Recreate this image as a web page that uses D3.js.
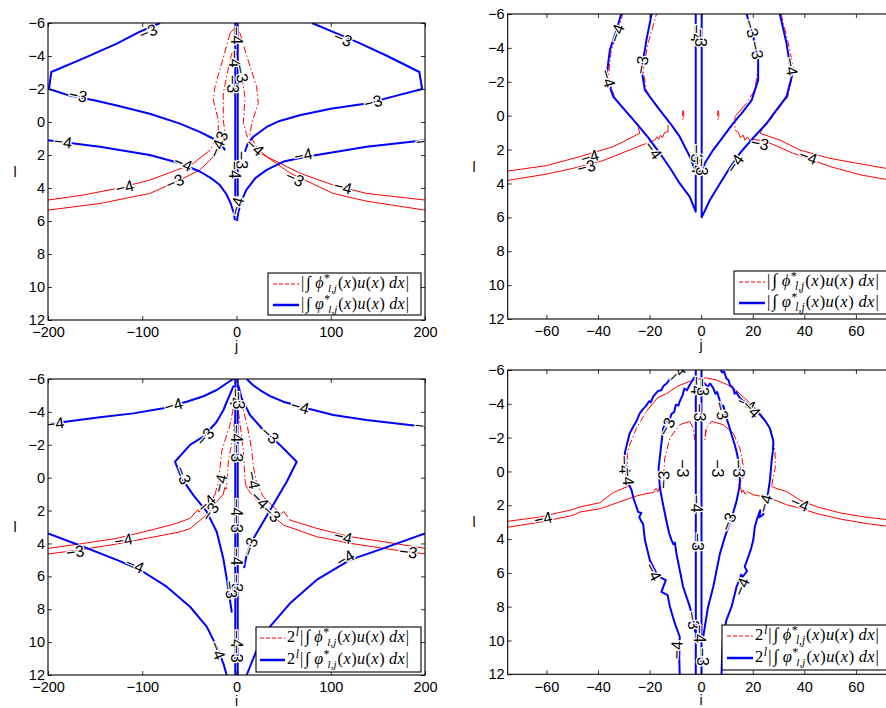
<!DOCTYPE html>
<html><head><meta charset="utf-8">
<script src="https://cdn.jsdelivr.net/npm/d3@7"></script>
<style>body{margin:0;background:#fff}</style>
</head><body>
<svg id="c" width="886" height="708" xmlns="http://www.w3.org/2000/svg"></svg>
<script>
// ---------- tick values ----------
const yTicks = [-6,-4,-2,0,2,4,6,8,10,12];
const xTicksWide = [-200,-100,0,100,200];
const xTicksNarrow = [-60,-40,-20,0,20,40,60];

// ---------- top-left panel: contour lines [j, l] ----------
const tlBlue = [
  [[-81,-6],[-103,-5.46],[-127,-4.75],[-163,-3.84],[-196.5,-3.03],[-199,-2.0],[-177,-1.6],[-150,-1.3],[-127,-1.0],[-92,-0.5],[-60,0.1],[-39,0.6],[-25,1.0],[-17,1.3],[-12,1.7]],
  [[80,-6],[105,-5.4],[130,-4.8],[160,-4.0],[194,-3.03],[197,-2.0],[170,-1.6],[138,-1.12],[100,-0.8],[67,-0.41],[45,-0.05],[32,0.3],[23,0.68],[17.7,0.9],[12,1.3],[9,1.8]],
  [[-200,1.1],[-145,1.5],[-92,2.0],[-60,2.5],[-39,3.0],[-27,3.4],[-18,3.8],[-11,4.35],[-6,4.95],[-3,5.5],[-1.6,5.95]],
  [[200,1.1],[138,1.5],[74,2.1],[50,2.4],[32,2.9],[20,3.4],[10.6,4.1],[5,4.8],[1.8,5.5],[0.5,6.0]],
  [[-1.3,-6],[-1.3,4.5]],
  [[1.3,-6],[1.3,4.5]]
];
const tlRed = [
  [[-2,-5.7],[-6.9,-5.37],[-14,-3.9],[-22.8,-2.14],[-24.6,-1.33],[-19.3,-0.12],[-19.3,0.79],[-28,1.7],[-45.8,2.5],[-63.7,2.92],[-92,3.52],[-127,4.03],[-163,4.43],[-200,4.73]],
  [[-1,-4.3],[-5.1,-4.16],[-10,-2.9],[-14,-1.74],[-14,-0.12],[-12.2,0.69],[-21,1.9],[-38.7,2.9],[-63.7,3.62],[-92,4.33],[-145,4.94],[-200,5.34]],
  [[-2,-5.7],[3.7,-5.37],[12,-3.8],[21.4,-2.14],[23.1,-1.13],[16.1,0.08],[14.3,0.79],[24.9,1.9],[46.2,2.5],[67,3.1],[103,3.83],[138,4.33],[200,4.73]],
  [[-1,-4.3],[1.9,-3.76],[6,-2.6],[9,-1.53],[7.2,0.08],[12.5,1.09],[32,2.1],[56.8,3.1],[102.7,4.33],[138,4.8],[200,5.34]]
];
const tlLabels = [
  [-93.8,-5.46,-3],[113,-5.05,-3],[-168,-1.62,-3],[145,-1.22,-3],[-184,1.2,-4],[200,1.15,-4],
  [-56.6,2.51,-4],[70.8,2.0,-4],[-118.6,3.93,-4],[-65.5,3.62,-3],[62,3.42,-3],[113,3.93,-4],
  [-17.7,1.1,-3],[-21,1.6,-4],[19.5,1.5,-4],[5.3,2.3,-3],[0,-5.25,-4],[-1.8,-3.84,-4],
  [5.3,-2.93,-3],[-3.5,-2.3,-3],[-1.8,2.9,-4],[0,5.1,-4]
];

// ---------- top-right panel ----------
const trBlue = [
  [[-31,-6],[-32.8,-5.06],[-35.4,-3.87],[-36.7,-2.3],[-34.1,-1.12],[-30,-0.4],[-25.1,0.45],[-20.5,1.3],[-16,2.22],[-12,3.1],[-8.3,4.0],[-4.4,4.79],[-2.1,5.67],[-2.1,-6]],
  [[30.5,-6],[33.1,-4.27],[35.1,-2.3],[33.1,-1.12],[29,-0.3],[25.4,0.45],[20,1.35],[15,2.22],[11,3.1],[7.3,4.0],[3.4,4.98],[0.2,6.0],[0.2,-6]],
  [[-19.2,-6],[-21.2,-4.47],[-23.1,-2.7],[-21.8,-1.5],[-16,-0.33],[-12,0.45],[-8.3,1.24],[-4.4,2.42],[-2.4,3.2]],
  [[17.6,-6],[20.2,-4.66],[22.1,-3.28],[22.1,-2.1],[19.6,-0.92],[16,-0.2],[12.4,0.45],[8.5,1.25],[4.65,2.03],[1.4,2.81],[0.5,3.5]]
];
const trRed = [
  [[-75,3.27],[-60,2.95],[-47.1,2.42],[-34.1,1.83],[-23.8,1.04],[-24.7,0.5],[-29.3,-0.3],[-33.6,-1.1],[-36,-2.3],[-34.8,-3.9],[-32.2,-5.0],[-30.4,-6]],
  [[-75,3.82],[-60,3.45],[-49.7,3.11],[-38,2.65],[-21.2,1.63],[-18,1.45],[-17.2,1.25],[-16.5,1.4],[-15.8,1.15],[-15,1.3],[-14.2,1.0],[-12.8,0.95],[-12.8,0.26],[-17.3,-0.53],[-21.2,-1.51],[-22.5,-2.69],[-20.6,-4.27],[-17.3,-6]],
  [[31,-6],[33.8,-4.3],[35.9,-2.69],[33.6,-1.12],[26,0.4],[24.1,0.65],[22.8,1.04],[30.5,1.44],[38.3,2.03],[49.9,2.52],[62,2.85],[75,3.2]],
  [[22.3,-3.0],[20.8,-1.51],[17.6,-0.73],[13.1,0.06],[13.1,0.85],[14.5,1.0],[15.2,1.3],[16.3,1.15],[17,1.45],[18,1.25],[19,1.5],[20.5,1.4],[25.4,1.54],[35.7,2.22],[49.9,3.0],[62,3.5],[75,3.85]],
  [[-7,-0.3],[-6.7,0],[-7,0.25],[-7.3,0],[-7,-0.3]],
  [[6.6,-0.3],[6.9,0],[6.6,0.25],[6.3,0],[6.6,-0.3]]
];
const trLabels = [
  [-32.8,-4.86,-4],[-36.1,-2.2,-4],[-23.1,-2.99,-3],[-1.8,-4.86,-4],[-0.2,-4.6,-3],[19.5,-5.15,-3],
  [21.5,-3.87,-3],[35,-2.9,-4],[-18.6,2.03,-4],[-43.2,2.42,-4],[-44.5,3.01,-3],[22.8,1.63,-3],
  [13.1,2.82,-4],[41.5,2.42,-4],[-1.8,2.23,-3],[-1.2,2.9,-4],[0.3,3.0,-3]
];

// ---------- bottom-left panel ----------
const blBlue = [
  [[-3.4,-6],[-10.4,-5.74],[-21,-5.33],[-35,-4.95],[-52.9,-4.62],[-77.6,-4.22],[-109.5,-3.91],[-144.9,-3.67],[-200,-3.26]],
  [[10.8,-6],[17,-5.65],[24.9,-5.33],[36,-4.95],[49.7,-4.62],[74.5,-4.22],[102.7,-3.81],[138,-3.51],[170,-3.3],[200,-3.1]],
  [[-3,-5.6],[-8.7,-4.83],[-14,-4.1],[-21,-3.4],[-35.2,-2.49],[-49.3,-1.99],[-65.3,-0.97],[-58.1,0.04],[-45.8,1.06],[-31.6,2.07],[-21,3.29],[-14,4.91],[-8.7,6.73],[-5,8.2]],
  [[2,-5.6],[5.5,-4.83],[14.3,-3.81],[28.4,-2.9],[46.2,-1.99],[63.9,-0.97],[53.3,0.25],[40.8,1.46],[28.4,2.68],[20,3.5],[14.3,4.1],[10.8,4.7],[8,5.5]],
  [[-200,3.39],[-162.5,4.2],[-127.1,5.0],[-102.4,5.6],[-74.1,6.63],[-49.3,7.85],[-31.6,9.06],[-21,10.28],[-14,11.29],[-10.4,12]],
  [[200,3.39],[155.8,4.3],[120.4,5.0],[85,6.22],[56.8,7.64],[35.5,9.06],[21.4,10.48],[10.8,12]],
  [[-1.3,-6],[-1.3,12]],
  [[1.3,-6],[1.3,12]]
];
const blRed = [
  [[-2,-5.0],[-3.4,-4.22],[-6.9,-3.2],[-12,-2.3],[-15.7,-1.58],[-17.5,-0.57],[-19.3,0.25],[-22.8,1.06],[-24,1.1],[-25,1.35],[-28,1.5],[-35.2,1.86],[-40,2.1],[-41,1.95],[-49.3,2.47],[-63.5,2.78],[-91.8,3.2],[-127.1,3.69],[-162.5,4.0],[-200,4.3]],
  [[-2,-3.5],[-3.4,-2.59],[-6,-1.8],[-8.7,-0.97],[-10.4,0.45],[-11,0.7],[-12.5,0.6],[-14,1.0],[-21,1.46],[-28.1,2.07],[-38.7,2.6],[-49.3,3.1],[-60,3.3],[-91.8,3.65],[-127.1,4.03],[-162.5,4.36],[-200,4.64]],
  [[2,-5.5],[3.7,-4.93],[10.8,-3.3],[14,-2.4],[16.1,-1.68],[17.9,-0.67],[21.4,0.35],[28.5,1.16],[42.7,1.97],[48,2.2],[50,2.05],[56.8,2.58],[85,3.08],[120.4,3.59],[155.8,3.89],[200,4.3]],
  [[2,-4.0],[3.7,-3.3],[7.2,-1.68],[9,0.14],[10.5,0.6],[11.5,0.5],[12,0.7],[17.9,1.16],[32,1.96],[49.7,2.88],[85,3.59],[120.4,3.99],[155.8,4.3],[200,4.64]]
];
const blLabels = [
  [-67,-4.42,-4],[-192.6,-3.3,-4],[67.4,-4.32,-4],[199,-3.15,-4],[-33.4,-2.49,-3],[35.5,-2.6,-3],
  [-56.4,-0.16,-3],[-17.5,0.35,-4],[17.9,0.14,-4],[-31.7,1.56,-4],[24.9,1.36,-4],[-28.1,2.07,-3],
  [37.3,2.17,-3],[-120,3.79,-4],[113.3,3.59,-4],[-171.3,4.5,-3],[182.3,4.5,-3],[-107.7,5.31,-4],
  [115.1,4.91,-4],[14.3,4.2,-3],[-1,-4.9,-4],[2,-4.7,-3],[0,-2.7,-4],[0,-1.5,-3],[0,1.8,-4],
  [0,2.8,-3],[0,4.8,-4],[0,6.4,-3],[-6,6.8,-3],[0,9.8,-4],[0,10.7,-3],[-20,10.5,-4]
];

// ---------- bottom-right panel ----------
const brBlue = [
  [[-8,-6],[-9.6,-5.75],[-11,-5.5],[-12.2,-5.45],[-13.4,-5.2],[-14.6,-5.05],[-15.5,-4.8],[-16.8,-4.75],[-18.6,-4.42],[-19.5,-4.1],[-20.2,-4.15],[-21.5,-3.85],[-22.5,-3.7],[-23.8,-3.44],[-25,-3.0],[-26.5,-2.6],[-27.7,-2.25],[-28.8,-1.6],[-29.6,-1.07],[-29.4,-0.4],[-29,0.11],[-28.5,0.6],[-27,1.1],[-26.2,1.6],[-25.1,2.09],[-24.4,2.4],[-23.2,2.45],[-24,2.7],[-23.2,2.95],[-22.5,3.1],[-21.8,4.06],[-19.9,5.25],[-17.3,6.03],[-16,6.25],[-13.7,6.43],[-15.4,7.12],[-13,7.32],[-12.1,8.0],[-10.2,8.99],[-8.3,9.78],[-8.5,11],[-8.3,12]],
  [[7.3,-6.05],[8.2,-5.85],[8.9,-5.9],[9.8,-5.5],[10.6,-5.4],[11.2,-5.1],[12.4,-4.93],[13,-4.6],[13.6,-4.7],[15,-4.34],[16,-4.2],[17,-4.1],[18.9,-3.95],[20.5,-3.7],[22.8,-3.36],[24.8,-3.0],[26.6,-2.57],[28,-1.78],[27.8,-1.2],[27.3,-0.6],[27,0.0],[26.6,0.59],[26,1.2],[25.4,1.77],[24,2.56],[22.6,2.7],[22.9,2.3],[21.5,2.9],[20.8,3.3],[20.2,4.06],[19.3,4.6],[18.3,5.04],[16.9,5.63],[17.8,5.9],[16.1,6.23],[15.5,6.1],[14.6,6.5],[13.7,6.83],[12.8,7.4],[11.8,8.0],[9.8,8.79],[8.5,9.78],[8.1,11],[7.9,12]],
  [[-2.5,-5.6],[-4.4,-5.13],[-5.5,-4.8],[-6.5,-4.9],[-7.2,-4.5],[-8.3,-4.15],[-8.8,-3.9],[-9.8,-3.95],[-10.5,-3.5],[-11.5,-3.4],[-12.3,-3.0],[-13.5,-2.9],[-14.7,-2.57],[-15.6,-1.4],[-16.5,-0.2],[-16,0.98],[-14.5,2.17],[-13.5,2.9],[-12.5,3.6],[-11.5,4.06],[-10.8,4.3],[-10.2,4.2],[-9.6,4.85],[-8.3,5.83],[-7,6.82],[-4.4,8.0],[-3.1,8.79],[-2.3,9.5]],
  [[0.8,-5.3],[2.5,-5.0],[3.5,-5.2],[4.7,-4.93],[5.5,-4.6],[6.2,-4.7],[7.3,-4.15],[8,-3.8],[8.6,-3.9],[9.8,-3.16],[10.8,-2.7],[11.8,-2.17],[12.8,-1.7],[13.7,-1.19],[15,-0.2],[15,0.79],[13.7,1.77],[11.8,2.76],[10.5,3.3],[9.2,3.87],[7.3,4.85],[6,5.83],[4.7,6.82],[2.7,8.0],[1.4,9.2],[0.8,9.78]],
  [[-2.07,-6],[-2.07,12]],
  [[0.13,-6],[0.13,12]]
];
const brRed = [
  [[-75,2.95],[-62.6,2.7],[-49.7,2.25],[-47,2.1],[-39.3,1.85],[-34.1,1.25],[-29.5,0.95],[-28.2,0.89],[-28.5,0.2],[-28.6,-1.0],[-27.7,-1.58],[-25,-2.6],[-21.2,-3.55],[-17,-4.35],[-13.4,-4.6],[-9,-5.05],[-4.4,-5.33],[0,-5.5],[2.1,-5.53],[6,-5.4],[10.2,-5.13],[13.5,-4.8],[16.8,-4.34],[20,-3.9],[23.3,-3.36],[27.3,-2.37],[28.6,-1.19],[28.8,-0.3],[27.9,0.39],[27.3,0.89],[30,1.05],[33.1,1.18],[38.3,1.7],[45,2.1],[53.8,2.45],[63.5,2.7],[75,2.9]],
  [[-75,3.3],[-62.6,3.0],[-49.7,2.6],[-47,2.4],[-39,2.2],[-31.6,1.8],[-25,1.45],[-21,1.3],[-18.5,1.25],[-17.5,1.0],[-16.8,1.22],[-16.2,0.95],[-15.4,1.05],[-14.7,0.59],[-14.1,-0.79],[-12.1,-1.98],[-8.3,-2.77],[-4.4,-2.96],[-3.1,-2.57],[-2.5,-1.88],[-2.2,-2.5]],
  [[1.8,-2.5],[1.4,-1.88],[2.1,-2.57],[4,-2.96],[8.5,-2.77],[12.4,-2.27],[15,-1.38],[16.3,-0.4],[16.3,0.39],[14.4,0.79],[15.3,0.95],[15.7,1.25],[16.3,1.1],[17,1.35],[18,1.2],[20.2,1.38],[26.6,1.57],[33.1,1.97],[38.3,2.17],[45,2.5],[55,2.85],[65,3.1],[75,3.3]]
];
const brLabels = [
  [-9.6,-5.8,-4],[-1.8,-5.1,-4],[0.5,-5.0,-3],[-0.5,-3.5,-3],[7.9,-3.6,-3],[17.6,-4.0,-4],[19.5,-3.7,-4],
  [-13.4,-2.65,-3],[-29.6,-0.4,-4],[-28.3,0.3,-4],[-7,-0.18,-3],[6.6,-0.18,-3],[14.4,-0.18,-3],
  [-14.7,0.5,-3],[-1.8,1.9,-4],[24.7,1.9,-4],[38.3,1.9,-4],[-61.3,2.78,-4],[10.5,2.97,-3],
  [-1.2,4.16,-3],[-18.6,5.93,-4],[15.6,6.82,-4],[-3.1,8.8,-3],[-0.5,9.6,-4],[-9.6,10.57,-4],[0.8,10.96,-3]
];

// ---------- rendering ----------
const BLUE = "#0000ff", RED = "#ff0000";
const svg = d3.select("#c");
const sans = '"Liberation Sans", Arial, Helvetica, sans-serif';
const serif = '"Liberation Serif", "DejaVu Serif", serif';

const panels = [
  {id:"tl", blue:tlBlue, red:tlRed, labels:tlLabels, xd:[-200,200], xt:xTicksWide, L:48, R:425, T:23, B:320, xl:"j", ylx:15,
   leg:{x:268,y:273,w:153,h:42,r1:284,r2:305,s0:273,s1:299,tx:301,tw:108,pow:false}},
  {id:"tr", blue:trBlue, red:trRed, labels:trLabels, xd:[-75,75], xt:xTicksNarrow, L:507.7, R:894.6, T:14, B:319, xl:"j", ylx:474,
   leg:{x:734,y:271,w:160,h:43,r1:282,r2:303,s0:739,s1:765,tx:767,tw:112,pow:false}},
  {id:"bl", blue:blBlue, red:blRed, labels:blLabels, xd:[-200,200], xt:xTicksWide, L:48, R:425, T:379, B:675, xl:"i", ylx:15,
   leg:{x:256,y:627,w:165,h:45,r1:638,r2:660,s0:260,s1:285,tx:287,tw:122,pow:true}},
  {id:"br", blue:brBlue, red:brRed, labels:brLabels, xd:[-75,75], xt:xTicksNarrow, L:507.7, R:894.6, T:370, B:674.3, xl:"i", ylx:474,
   leg:{x:722,y:625,w:172,h:45,r1:636,r2:658,s0:727,s1:753,tx:755,tw:124,pow:true}}
];

const defs = svg.append("defs");

function segDist(px,py,x1,y1,x2,y2){
  const dx=x2-x1, dy=y2-y1, L2=dx*dx+dy*dy;
  let t = L2 ? ((px-x1)*dx+(py-y1)*dy)/L2 : 0; t=Math.max(0,Math.min(1,t));
  const qx=x1+t*dx, qy=y1+t*dy; return Math.hypot(px-qx,py-qy);
}

function mathLegend(g, x, y, pow, phi, targetW){
  const wrap = g.append("g");
  const t = wrap.append("text").attr("x",0).attr("y",0).attr("font-family",serif).attr("font-size",13).attr("fill","#000");
  const parts = [];
  if(pow){ parts.push(["2",0,0,13,false]); parts.push(["l",0.5,-5,9.5,true]); parts.push(["|",0.8,5,13,false]); }
  else parts.push(["|",0,0,13,false]);
  parts.push(["\u222B",1.5,0,14,false]);
  parts.push([phi,3.5,0,13,true]);
  parts.push(["*",0.3,-5,9.5,false]);
  parts.push(["l,j",-1.5,8,9,true]);
  parts.push(["(",0.8,-3,13,false]);
  parts.push(["x",0.3,0,13,true]);
  parts.push([")",0.6,0,13,false]);
  parts.push(["u",0.3,0,13,true]);
  parts.push(["(",0.3,0,13,false]);
  parts.push(["x",0.3,0,13,true]);
  parts.push([")",0.6,0,13,false]);
  parts.push(["d",3.5,0,13,true]);
  parts.push(["x",0.3,0,13,true]);
  parts.push(["|",0.8,0,13,false]);
  parts.forEach(([s,dx,dy,fs,it])=>{
    t.append("tspan").attr("dx",dx).attr("dy",dy).attr("font-size",fs)
      .attr("font-style",it?"italic":"normal").text(s);
  });
  const w = t.node().getBBox().width || targetW;
  const s = Math.min(1.35, Math.max(0.8, targetW / w));
  wrap.attr("transform",`translate(${x},${y}) scale(${s})`);
}

panels.forEach(p=>{
  const x = d3.scaleLinear().domain(p.xd).range([p.L,p.R]);
  const y = d3.scaleLinear().domain([-6,12]).range([p.T,p.B]);
  const g = svg.append("g");
  defs.append("clipPath").attr("id","clip-"+p.id).append("rect")
    .attr("x",p.L).attr("y",p.T).attr("width",p.R-p.L).attr("height",p.B-p.T);
  const plot = g.append("g").attr("clip-path",`url(#clip-${p.id})`);
  const line = d3.line().x(d=>x(d[0])).y(d=>y(d[1]));

  // red contours: steep parts (long cell crossings) show the dash-dot pattern
  p.red.forEach(pts=>{
    const px = pts.map(d=>[x(d[0]),y(d[1])]);
    let runs=[], cur=[px[0]], curSteep=null;
    for(let i=1;i<px.length;i++){
      const dx=px[i][0]-px[i-1][0], dy=px[i][1]-px[i-1][1];
      const steep = Math.abs(dy) > 1.3*Math.abs(dx) && Math.abs(dy) > 4;
      if(curSteep===null) curSteep=steep;
      if(steep!==curSteep){ runs.push({pts:cur,steep:curSteep}); cur=[px[i-1]]; curSteep=steep; }
      cur.push(px[i]);
    }
    runs.push({pts:cur,steep:curSteep});
    runs.forEach(r=>{
      plot.append("path").attr("d",d3.line()(r.pts)).attr("fill","none")
        .attr("stroke",RED).attr("stroke-width",1)
        .attr("stroke-dasharray", r.steep ? "7,2.5,1.5,2.5" : null);
    });
  });
  // blue contours
  p.blue.forEach(pts=>{
    plot.append("path").datum(pts).attr("d",line).attr("fill","none")
      .attr("stroke",BLUE).attr("stroke-width",2).attr("stroke-linejoin","round");
  });

  // contour labels, rotated along the nearest contour
  const allPx = p.red.concat(p.blue).map(pts=>pts.map(d=>[x(d[0]),y(d[1])]));
  p.labels.forEach(([j,l,v])=>{
    const lx=x(j), ly=y(l);
    let best=Infinity, ang=0;
    allPx.forEach(pl=>{
      for(let i=1;i<pl.length;i++){
        const dd=segDist(lx,ly,pl[i-1][0],pl[i-1][1],pl[i][0],pl[i][1]);
        if(dd<best){best=dd; ang=Math.atan2(pl[i][1]-pl[i-1][1],pl[i][0]-pl[i-1][0])*180/Math.PI;}
      }
    });
    if(ang>90) ang-=180; if(ang<=-90) ang+=180;
    plot.append("text").attr("transform",`translate(${lx},${ly}) rotate(${ang})`)
      .attr("text-anchor","middle").attr("dy","0.36em")
      .attr("font-family",sans).attr("font-size",16).attr("fill","#000")
      .attr("stroke","#fff").attr("stroke-width",2.5).attr("paint-order","stroke")
      .text("\u2212"+Math.abs(v));
  });

  // axes with inward ticks on all sides
  const ax = g.append("g").attr("font-family",sans);
  ax.append("g").attr("transform",`translate(0,${p.B})`)
    .call(d3.axisBottom(x).tickValues(p.xt).tickSizeInner(-4).tickSizeOuter(0).tickPadding(7));
  ax.append("g").attr("transform",`translate(0,${p.T})`)
    .call(d3.axisTop(x).tickValues(p.xt).tickSizeInner(-4).tickSizeOuter(0).tickFormat(""));
  ax.append("g").attr("transform",`translate(${p.L},0)`)
    .call(d3.axisLeft(y).tickValues(yTicks).tickSizeInner(-4).tickSizeOuter(0).tickPadding(3));
  ax.append("g").attr("transform",`translate(${p.R},0)`)
    .call(d3.axisRight(y).tickValues(yTicks).tickSizeInner(-4).tickSizeOuter(0).tickFormat(""));
  ax.selectAll(".domain").remove();
  ax.selectAll(".tick line").attr("stroke","#000").attr("stroke-width",0.8);
  ax.selectAll(".tick text").attr("font-size",14.5).attr("font-family",sans).attr("fill","#000");

  g.append("rect").attr("x",p.L).attr("y",p.T).attr("width",p.R-p.L).attr("height",p.B-p.T)
    .attr("fill","none").attr("stroke","#000").attr("stroke-width",1.1);

  // axis titles
  g.append("text").attr("x",x(0)).attr("y",p.B+31)
    .attr("text-anchor","middle").attr("font-family",sans).attr("font-size",14).text(p.xl);
  g.append("text").attr("x",p.ylx).attr("y",(p.T+p.B)/2).attr("dy","0.36em")
    .attr("text-anchor","middle").attr("font-family",sans).attr("font-size",14).text("l");

  // legend
  const lg = g.append("g");
  const L = p.leg;
  lg.append("rect").attr("x",L.x).attr("y",L.y).attr("width",L.w).attr("height",L.h)
    .attr("fill","#fff").attr("stroke","#000").attr("stroke-width",1.1);
  lg.append("line").attr("x1",L.s0).attr("x2",L.s1).attr("y1",L.r1).attr("y2",L.r1)
    .attr("stroke",RED).attr("stroke-width",1).attr("stroke-dasharray","4,2");
  lg.append("line").attr("x1",L.s0).attr("x2",L.s1).attr("y1",L.r2).attr("y2",L.r2)
    .attr("stroke",BLUE).attr("stroke-width",2.5);
  mathLegend(lg, L.tx, L.r1+4, L.pow, "\u03D5", L.tw);
  mathLegend(lg, L.tx, L.r2+4, L.pow, "\u03C6", L.tw);
});
</script>
</body></html>
